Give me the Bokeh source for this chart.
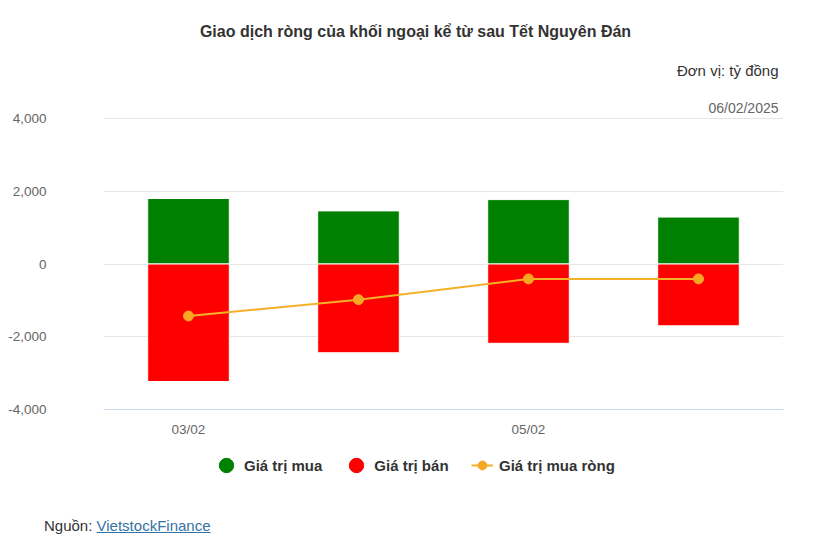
from bokeh.plotting import figure
from bokeh.models import (Range1d, Label, Legend, LegendItem, Div, ColumnDataSource,
                          FixedTicker, NumeralTickFormatter)
from bokeh.layouts import column
from bokeh.embed import file_html
from bokeh.resources import INLINE

# Trading sessions after the Lunar New Year holiday (billion VND)
sessions = ["03/02", "04/02", "05/02", "06/02"]
buy_value = [1800, 1460, 1770, 1290]
sell_value = [-3230, -2440, -2180, -1700]
net_value = [-1430, -980, -410, -410]
y_ticks = [-4000, -2000, 0, 2000, 4000]

FONT = "Liberation Sans"
GREEN = "#008000"
RED = "#ff0000"
LINE = "#f2b127"
DOT = "#f7a823"

pos = [i + 0.5 for i in range(len(sessions))]
src = ColumnDataSource(dict(x=pos, buy=buy_value, sell=sell_value, net=net_value))

# ---- main chart: frame runs from the canvas top down to the x axis ----
W, H = 822, 440
left, right, bottom = 103, 39, 31
frame_h = H - bottom                    # 409 px
grid_top_px = 118                       # where the 4,000 gridline sits
px_per_unit = (frame_h - grid_top_px) / 8000.0
y_end = 4000 + grid_top_px / px_per_unit

p = figure(width=W, height=H, x_range=Range1d(0, len(sessions)),
           y_range=Range1d(-4000, y_end), output_backend="svg", toolbar_location=None,
           min_border_left=left, min_border_right=right, min_border_top=0,
           min_border_bottom=bottom, outline_line_color=None)

plot_w = W - left - right


def px_x(px):
    return (px - left) / plot_w * len(sessions)


def px_y(py):
    return y_end - py / px_per_unit


# bars
p.vbar(x="x", top="buy", bottom=0, width=0.48, source=src,
       fill_color=GREEN, line_color="white", line_width=1)
p.vbar(x="x", top=0, bottom="sell", width=0.48, source=src,
       fill_color=RED, line_color="white", line_width=1)

# net line
p.line(x="x", y="net", source=src, line_color=LINE, line_width=2)
p.scatter(x="x", y="net", source=src, size=10, fill_color=DOT, line_color=DOT)

# axes & grid
p.yaxis.ticker = FixedTicker(ticks=y_ticks)
p.yaxis.formatter = NumeralTickFormatter(format="0,0")
p.yaxis.axis_line_color = None
p.yaxis.major_tick_line_color = None
p.yaxis.minor_tick_line_color = None
p.yaxis.major_label_standoff = 51
p.yaxis.major_label_text_font = FONT
p.yaxis.major_label_text_font_size = "13.5px"
p.yaxis.major_label_text_color = "#666666"

shown = list(range(0, len(sessions), 2))
p.xaxis.ticker = FixedTicker(ticks=[pos[i] for i in shown])
p.xaxis.major_label_overrides = {pos[i]: sessions[i] for i in shown}
p.xaxis.axis_line_color = "#ccd6eb"
p.xaxis.major_tick_line_color = None
p.xaxis.minor_tick_line_color = None
p.xaxis.major_label_standoff = 6
p.xaxis.major_label_text_font = FONT
p.xaxis.major_label_text_font_size = "13.5px"
p.xaxis.major_label_text_color = "#666666"

p.xgrid.grid_line_color = None
p.ygrid.grid_line_color = "#e6e6e6"

# headings
p.add_layout(Label(x=px_x(415), y=px_y(31), text="Giao dịch ròng của khối ngoại kể từ sau Tết Nguyên Đán",
                   text_align="center", text_baseline="middle", text_font=FONT,
                   text_font_size="16px", text_font_style="bold", text_color="#333333"))
p.add_layout(Label(x=px_x(778), y=px_y(70), text="Đơn vị: tỷ đồng",
                   text_align="right", text_baseline="middle", text_font=FONT,
                   text_font_size="15px", text_color="#333333"))
p.add_layout(Label(x=px_x(778), y=px_y(107), text="06/02/2025",
                   text_align="right", text_baseline="middle", text_font=FONT,
                   text_font_size="14px", text_color="#666666"))

# ---- legend strip (its frame is aligned with the chart's frame by the column) ----
LH = 65
lg = figure(width=W, height=LH, x_range=Range1d(0, 1), y_range=Range1d(0, 1),
            output_backend="svg", toolbar_location=None, min_border=0,
            min_border_left=left, min_border_right=right,
            outline_line_color=None)
lg.axis.visible = False
lg.grid.visible = False

# proxy renderers, parked off-frame, that only supply the legend swatches
off = dict(x=[-10], y=[-10])
r_buy = lg.scatter(marker="circle", fill_color=GREEN, line_color=GREEN, **off)
r_sell = lg.scatter(marker="circle", fill_color=RED, line_color=RED, **off)
r_net_line = lg.line(line_color=LINE, line_width=2, x=[-10, -9], y=[-10, -10])
r_net_dot = lg.scatter(marker="circle", fill_color=DOT, line_color=DOT, **off)

common = dict(orientation="horizontal", padding=0, margin=0, border_line_color=None,
              background_fill_alpha=0, label_text_font=FONT, label_text_font_size="15px",
              label_text_font_style="bold", label_text_color="#333333")

leg_a = Legend(items=[LegendItem(label="Giá trị mua", renderers=[r_buy]),
                      LegendItem(label="Giá trị bán", renderers=[r_sell])],
               glyph_width=36, glyph_height=36, label_standoff=0, spacing=16,
               location=(208 - left, 22), **common)
leg_b = Legend(items=[LegendItem(label="Giá trị mua ròng", renderers=[r_net_line, r_net_dot])],
               glyph_width=22, glyph_height=24, label_standoff=6,
               location=(471 - left, 28), **common)
lg.add_layout(leg_a)
lg.add_layout(leg_b)

source_note = Div(
    text='<div style="padding:10px 0 0 44px;font-family:\'Liberation Sans\';font-size:15px;color:#333333;">'
         'Nguồn: <a href="#" style="color:#3572a5;text-decoration:underline;">VietstockFinance</a></div>',
    width=W, height=552 - H - LH, margin=0)

layout = column(p, lg, source_note, spacing=0)
open("out.html", "w").write(file_html(layout, INLINE))
